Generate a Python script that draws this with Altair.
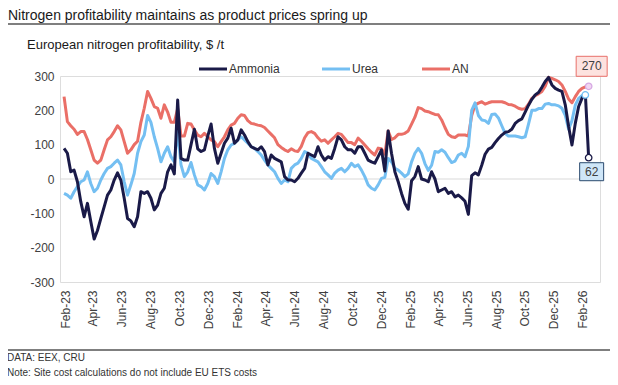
import altair as alt
import pandas as pd

# ---- data (weekly) ----
series_names = ["Ammonia", "Urea", "AN"]
series_colors = ["#1a1a48", "#74bff2", "#ea6f67"]

ammonia = [
    89, 75, 21, 26, -8, -66, -110, -71, -124, -175,
    -150, -115, -81, -47, -32, -3, 18, -3, -56, -115,
    -122, -139, -110, -37, -42, -37, -56, -90, -76, -42,
    -27, 21, 41, 15, 230, 60, 55, 55, 100, 145,
    88, 80, 85, 125, 160, 89, 46, 75, 104, 119,
    148, 104, 114, 143, 128, 109, 94, 89, 85, 94,
    80, 41, 70, 60, 55, 50, 7, -3, -3, -8,
    2, 17, 31, 75, 70, 65, 94, 70, 55, 65,
    60, 89, 123, 114, 94, 85, 85, 75, 94, 94,
    75, 55, 50, 46, 65, 85, 23, 140, 75, 21,
    -8, -42, -71, -88, -5, 7, 36, 0, -3, -8,
    21, 0, -37, -32, -27, -42, -37, -52, -47, -55,
    -65, -103, 10, 18, 12, 40, 72, 87, 92, 106,
    118, 128, 136, 138, 145, 162, 170, 175, 195, 215,
    232, 245, 252, 267, 284, 296, 274, 264, 259, 255,
    216, 153, 99, 162, 211, 235, 250, 62,
]

urea = [
    -42, -47, -56, -37, -22, -8, -3, 21, -13, -37,
    -27, -3, 16, 31, 36, 46, 55, 41, -8, -47,
    -17, 16, 75, 109, 128, 185, 165, 123, 89, 50,
    75, 94, 65, 50, 140, 41, 7, 21, 48, 12,
    -17, -22, -32, -13, 16, 7, -13, 21, 60, 85,
    99, 104, 114, 123, 114, 104, 94, 89, 80, 70,
    55, 41, 31, 21, 2, -13, -3, -8, 31, 41,
    46, 60, 80, 75, 60, 55, 50, 36, 21, 12,
    2, 17, 26, 31, 21, 31, 46, 36, 41, 26,
    7, -17, -27, -32, -17, 2, 5, 60, 50, 31,
    26, 17, 7, 15, 50, 75, 89, 75, 45, 25,
    40, 80, 78, 85, 78, 62, 48, 52, 70, 75,
    65, 95, 200, 222, 185, 172, 170, 162, 188, 189,
    178, 155, 133, 125, 125, 125, 123, 120, 123, 160,
    200, 200, 205, 205, 218, 220, 216, 216, 213, 206,
    185, 145, 170, 215, 235, 243, 245,
]

an = [
    240, 167, 155, 145, 130, 138, 138, 115, 85, 55,
    46, 55, 85, 114, 123, 138, 155, 143, 109, 75,
    85, 100, 110, 165, 206, 255, 235, 211, 206, 177,
    216, 195, 165, 165, 205, 125, 125, 162, 160, 143,
    128, 123, 133, 123, 114, 109, 94, 109, 123, 143,
    157, 162, 177, 187, 185, 170, 162, 160, 157, 155,
    150, 140, 130, 120, 100, 92, 85, 80, 88, 82,
    80, 95, 120, 135, 138, 133, 120, 110, 114, 104,
    114, 123, 133, 130, 118, 106, 106, 100, 119, 110,
    99, 88, 78, 70, 90, 88, 72, 140, 115, 120,
    130, 130, 133, 140, 160, 180, 208, 205, 198, 196,
    192, 188, 187, 172, 150, 130, 123, 121, 128, 128,
    128, 125, 185, 216, 221, 225, 218, 222, 225, 225,
    225, 225, 222, 217, 216, 212, 206, 203, 205, 218,
    235, 243, 248, 255, 270, 296, 293, 289, 284, 274,
    255, 233, 222, 240, 255, 264, 268, 270,
]

y_ticks = [-300, -200, -100, 0, 100, 200, 300]
x_tick_months = [(2023, 2), (2023, 4), (2023, 6), (2023, 8), (2023, 10), (2023, 12),
                 (2024, 2), (2024, 4), (2024, 6), (2024, 8), (2024, 10), (2024, 12),
                 (2025, 2), (2025, 4), (2025, 6), (2025, 8), (2025, 10), (2025, 12),
                 (2026, 2)]

title_text = "Nitrogen profitability maintains as product prices spring up"
subtitle_text = "European nitrogen profitability, $ /t"
source_text = "DATA: EEX, CRU"
note_text = "Note: Site cost calculations do not include EU ETS costs"

# legend layout (pixel offsets from the plot's left edge)
legend_x = [139, 262, 362]

# ---- tables ----
dates = pd.date_range("2023-01-30", "2026-02-13", periods=len(ammonia))
frames = {}
for name, vals in zip(series_names, [ammonia, urea, an]):
    frames[name] = pd.DataFrame({"date": dates[:len(vals)], "series": name, "value": vals})

end_df = pd.DataFrame({
    "date": [frames[n]["date"].iloc[-1] for n in series_names],
    "series": series_names,
    "value": [frames[n]["value"].iloc[-1] for n in series_names],
    "fill": ["#ffffff", "#ffffff", "#f1d6f3"],
    "stroke": ["#1a1a48", "#74bff2", "#d6a9e3"],
})

FONT = "Liberation Sans"

x_enc = alt.X(
    "date:T",
    scale=alt.Scale(domain=[alt.DateTime(year=2023, month=1, date=21, hours=10),
                            alt.DateTime(year=2026, month=3, date=9)]),
    axis=alt.Axis(values=[alt.DateTime(year=y, month=m, date=1) for y, m in x_tick_months],
                  format="%b-%y", labelAngle=270, labelFontSize=12, labelColor="#404040",
                  labelFont=FONT, domain=False, ticks=False, grid=False, labelPadding=8,
                  labelOverlap=False, labelFlush=False, labelBound=False, title=None),
)
y_enc = alt.Y(
    "value:Q",
    scale=alt.Scale(domain=[-300, 300], nice=False),
    axis=alt.Axis(values=y_ticks, labelExpr="'' + datum.value", labelFontSize=12,
                  labelColor="#404040", labelFont=FONT, domain=False, ticks=False,
                  grid=False, labelPadding=6, title=None),
)
color_enc = alt.Color(
    "series:N",
    scale=alt.Scale(domain=series_names, range=series_colors),
    legend=None,
)

zero_rule = alt.Chart(pd.DataFrame({"value": [0]})).mark_rule(color="#d9d9d9", strokeWidth=1).encode(
    y=y_enc
)

line_layers = []
for name in ["AN", "Urea", "Ammonia"]:
    line_layers.append(
        alt.Chart(frames[name]).mark_line(strokeWidth=3, strokeJoin="round").encode(
            x=x_enc, y=y_enc, color=color_enc
        )
    )

markers = alt.Chart(end_df).mark_point(filled=True, size=42, strokeWidth=1.3, opacity=1).encode(
    x=x_enc, y=y_enc,
    fill=alt.Fill("fill:N", scale=None),
    stroke=alt.Stroke("stroke:N", scale=None),
)

an_end = end_df[end_df.series == "AN"]
am_end = end_df[end_df.series == "Ammonia"]

box_an = alt.Chart(an_end).mark_point(
    shape="M-1.55,-1L1.55,-1L1.55,1L-1.55,1Z", size=400, filled=True,
    fill="#fde2df", stroke="#e8706a", strokeWidth=1, opacity=1, xOffset=3, yOffset=-20,
).encode(x=x_enc, y=y_enc)
txt_an = alt.Chart(an_end).mark_text(
    dx=3, dy=-20, fontSize=12, font=FONT, color="#404040"
).encode(x=x_enc, y=y_enc, text=alt.Text("value:Q", format="d"))

box_am = alt.Chart(am_end).mark_point(
    shape="M-1.333,-1L1.333,-1L1.333,1L-1.333,1Z", size=324, filled=True,
    fill="#cfe6f8", stroke="#2a4a6e", strokeWidth=1, opacity=1, xOffset=3, yOffset=14,
).encode(x=x_enc, y=y_enc)
txt_am = alt.Chart(am_end).mark_text(
    dx=3, dy=14, fontSize=12, font=FONT, color="#404040"
).encode(x=x_enc, y=y_enc, text=alt.Text("value:Q", format="d"))

# manual legend
leg_df = pd.DataFrame({"series": series_names, "lx": legend_x})
leg_df["lx2"] = leg_df["lx"] + 28
leg_df["tx"] = leg_df["lx"] + 30
leg_sym = alt.Chart(leg_df).mark_rule(strokeWidth=3).encode(
    x=alt.X("lx:Q", scale=None), x2="lx2:Q", y=alt.value(-7), color=color_enc
)
leg_txt = alt.Chart(leg_df).mark_text(
    align="left", baseline="middle", fontSize=12, font=FONT, color="#333333"
).encode(x=alt.X("tx:Q", scale=None), y=alt.value(-7), text="series:N")

def label(text, x, y, size, color="#1a1a1a"):
    return alt.Chart(pd.DataFrame({"t": [text]})).mark_text(
        align="left", baseline="middle", fontSize=size, font=FONT, color=color
    ).encode(x=alt.value(x), y=alt.value(y), text="t:N")

title = label(title_text, -52, -60, 14)
subtitle = label(subtitle_text, -33, -31, 13)
source = label(source_text, -53, 282, 10, "#333333")
note = label(note_text, -53, 297, 10, "#333333")

title_rule = alt.Chart(pd.DataFrame({"a": [0]})).mark_rule(color="#000000", strokeWidth=1.2).encode(
    x=alt.value(-55), x2=alt.value(552), y=alt.value(-52)
)
foot_rule = alt.Chart(pd.DataFrame({"a": [0]})).mark_rule(color="#000000", strokeWidth=1.2).encode(
    x=alt.value(-55), x2=alt.value(552), y=alt.value(274)
)

chart = alt.layer(
    zero_rule, *line_layers, markers, box_an, txt_an, box_am, txt_am,
    leg_sym, leg_txt,
    title, title_rule, subtitle, foot_rule, source, note,
).properties(
    width=540, height=206,
    padding={"left": 52, "top": 68, "right": 10, "bottom": 95},
    autosize=alt.AutoSizeParams(type="none"),
).configure_view(stroke=None).configure(font=FONT)

chart.save("out.html", embed_options={"renderer": "svg", "actions": False})
